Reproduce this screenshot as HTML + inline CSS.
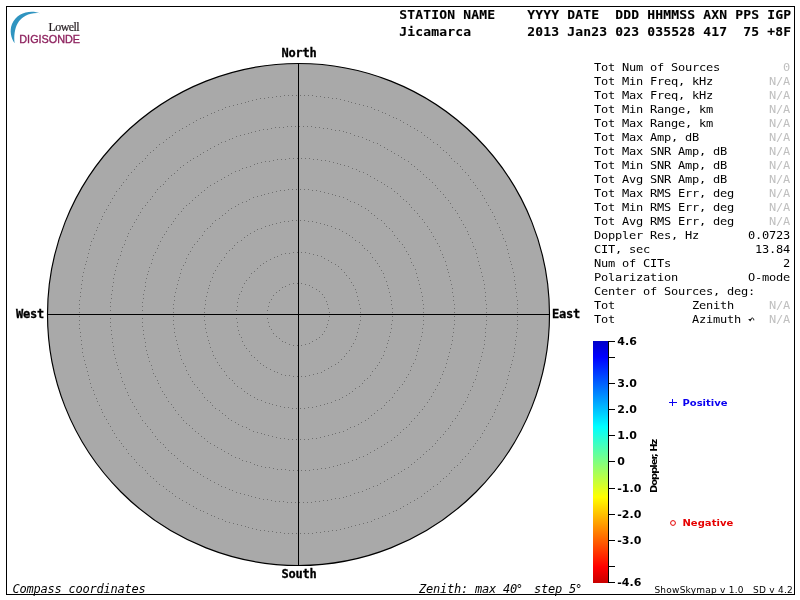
<!DOCTYPE html>
<html lang="en"><head><meta charset="utf-8"><title>Skymap - Jicamarca</title>
<style>
html,body{margin:0;padding:0;background:#fff;}
body{width:800px;height:600px;overflow:hidden;}
svg{display:block;}
.m{font-family:"DejaVu Sans Mono","Liberation Mono",monospace;font-size:12px;letter-spacing:-0.224px;fill:#000;}
.mb{font-family:"DejaVu Sans Mono","Liberation Mono",monospace;font-size:12px;font-weight:bold;letter-spacing:-0.224px;fill:#000;stroke:#000;stroke-width:0.3px;}
.mi{font-family:"DejaVu Sans Mono","Liberation Mono",monospace;font-size:12px;font-style:italic;letter-spacing:-0.224px;fill:#000;}
.h{font-family:"DejaVu Sans Mono","Liberation Mono",monospace;font-size:13px;font-weight:bold;letter-spacing:0.174px;fill:#000;stroke:#000;stroke-width:0.12px;}
.g{fill:#c0c0c0;}
.t{font-family:"DejaVu Sans","Liberation Sans",sans-serif;font-size:11px;font-weight:bold;fill:#000;}
.l{font-family:"DejaVu Sans","Liberation Sans",sans-serif;font-size:10px;font-weight:bold;}
.f{font-family:"DejaVu Sans","Liberation Sans",sans-serif;font-size:10px;fill:#000;}
</style></head><body>
<svg width="800" height="600" viewBox="0 0 800 600">
<defs>
<linearGradient id="jet" x1="0" y1="0" x2="0" y2="1">
<stop offset="0" stop-color="#0000c8"/>
<stop offset="0.066" stop-color="#0000ff"/>
<stop offset="0.355" stop-color="#00ffff"/>
<stop offset="0.5" stop-color="#80ff80"/>
<stop offset="0.645" stop-color="#ffff00"/>
<stop offset="0.934" stop-color="#ff0000"/>
<stop offset="1" stop-color="#c80000"/>
</linearGradient>
</defs>
<rect x="0" y="0" width="800" height="600" fill="#fff"/>
<rect x="6.5" y="6.5" width="788" height="588" fill="none" stroke="#000" stroke-width="1" shape-rendering="crispEdges"/>
<g id="logo">
<path d="M40.3 13.3 C30 9.2 16.5 13 12 24 C9.3 31 11 38 14.6 43.2 C13.8 36 14.6 29 17.6 23.6 C22 16 30.5 12.2 40.3 13.3 Z" fill="#2f94c0"/>
<text x="48.6" y="30.7" style="font-family:'Liberation Serif',serif;font-size:12px;letter-spacing:-0.62px;fill:#241c20;stroke:#241c20;stroke-width:0.2px">Lowell</text>
<text x="19.3" y="42.6" style="font-family:'Liberation Sans',sans-serif;font-size:10.83px;fill:#8f2460;stroke:#8f2460;stroke-width:0.35px">DIGISONDE</text>
</g>
<text class="h" x="399.3" y="19" xml:space="preserve">STATION NAME    YYYY DATE  DDD HHMMSS AXN PPS IGP</text>
<text class="h" x="399.3" y="36" xml:space="preserve">Jicamarca       2013 Jan23 023 035528 417  75 +8F</text>
<circle cx="298.5" cy="314.5" r="251" fill="#a9a9a9" stroke="#000" stroke-width="1.15"/>
<path d="M329 316.5h1M328 320.5h1M327 324.5h1M326 327.5h1M324 331.5h1M322 334.5h1M319 337.5h1M316 339.5h1M312 341.5h1M309 343.5h1M305 344.5h1M301 345.5h1M297 345.5h1M293 345.5h1M289 344.5h1M285 342.5h1M282 341.5h1M279 338.5h1M276 336.5h1M273 333.5h1M271 329.5h1M269 326.5h1M268 322.5h1M267 318.5h1M267 314.5h1M267 310.5h1M268 306.5h1M269 302.5h1M271 299.5h1M273 295.5h1M276 292.5h1M279 290.5h1M282 287.5h1M285 286.5h1M289 284.5h1M293 283.5h1M297 283.5h1M301 283.5h1M305 284.5h1M309 285.5h1M312 287.5h1M316 289.5h1M319 291.5h1M322 294.5h1M324 297.5h1M326 301.5h1M327 304.5h1M328 308.5h1M329 312.5h1" fill="none" stroke="#707070" stroke-width="1" shape-rendering="crispEdges"/>
<path d="M360 316.5h1M360 320.5h1M359 324.5h1M358 328.5h1M357 332.5h1M356 336.5h1M355 339.5h1M353 343.5h1M351 346.5h1M349 350.5h1M346 353.5h1M344 356.5h1M341 359.5h1M338 362.5h1M335 364.5h1M331 366.5h1M328 368.5h1M324 370.5h1M321 372.5h1M317 373.5h1M313 374.5h1M309 375.5h1M305 376.5h1M301 376.5h1M297 376.5h1M293 376.5h1M289 375.5h1M285 375.5h1M281 374.5h1M277 372.5h1M274 371.5h1M270 369.5h1M266 367.5h1M263 365.5h1M260 363.5h1M257 360.5h1M254 357.5h1M251 355.5h1M249 351.5h1M246 348.5h1M244 345.5h1M242 341.5h1M241 337.5h1M239 334.5h1M238 330.5h1M237 326.5h1M237 322.5h1M236 318.5h1M236 314.5h1M236 310.5h1M237 306.5h1M237 302.5h1M238 298.5h1M239 294.5h1M241 291.5h1M242 287.5h1M244 283.5h1M246 280.5h1M249 277.5h1M251 273.5h1M254 271.5h1M257 268.5h1M260 265.5h1M263 263.5h1M266 261.5h1M270 259.5h1M274 257.5h1M277 256.5h1M281 254.5h1M285 253.5h1M289 253.5h1M293 252.5h1M297 252.5h1M301 252.5h1M305 252.5h1M309 253.5h1M313 254.5h1M317 255.5h1M321 256.5h1M324 258.5h1M328 260.5h1M331 262.5h1M335 264.5h1M338 266.5h1M341 269.5h1M344 272.5h1M346 275.5h1M349 278.5h1M351 282.5h1M353 285.5h1M355 289.5h1M356 292.5h1M357 296.5h1M358 300.5h1M359 304.5h1M360 308.5h1M360 312.5h1" fill="none" stroke="#707070" stroke-width="1" shape-rendering="crispEdges"/>
<path d="M392 316.5h1M392 320.5h1M391 324.5h1M391 328.5h1M390 332.5h1M389 336.5h1M388 340.5h1M387 343.5h1M386 347.5h1M384 351.5h1M383 355.5h1M381 358.5h1M379 362.5h1M377 365.5h1M375 368.5h1M372 371.5h1M370 375.5h1M367 378.5h1M364 380.5h1M362 383.5h1M359 386.5h1M355 388.5h1M352 391.5h1M349 393.5h1M346 395.5h1M342 397.5h1M339 399.5h1M335 400.5h1M331 402.5h1M327 403.5h1M324 404.5h1M320 405.5h1M316 406.5h1M312 407.5h1M308 407.5h1M304 408.5h1M300 408.5h1M296 408.5h1M292 408.5h1M288 407.5h1M284 407.5h1M280 406.5h1M276 405.5h1M272 404.5h1M269 403.5h1M265 402.5h1M261 400.5h1M257 399.5h1M254 397.5h1M250 395.5h1M247 393.5h1M244 391.5h1M241 388.5h1M237 386.5h1M234 383.5h1M232 380.5h1M229 378.5h1M226 375.5h1M224 371.5h1M221 368.5h1M219 365.5h1M217 362.5h1M215 358.5h1M213 355.5h1M212 351.5h1M210 347.5h1M209 343.5h1M208 340.5h1M207 336.5h1M206 332.5h1M205 328.5h1M205 324.5h1M204 320.5h1M204 316.5h1M204 312.5h1M204 308.5h1M205 304.5h1M205 300.5h1M206 296.5h1M207 292.5h1M208 288.5h1M209 285.5h1M210 281.5h1M212 277.5h1M213 273.5h1M215 270.5h1M217 266.5h1M219 263.5h1M221 260.5h1M224 257.5h1M226 253.5h1M229 250.5h1M232 248.5h1M234 245.5h1M237 242.5h1M241 240.5h1M244 237.5h1M247 235.5h1M250 233.5h1M254 231.5h1M257 229.5h1M261 228.5h1M265 226.5h1M269 225.5h1M272 224.5h1M276 223.5h1M280 222.5h1M284 221.5h1M288 221.5h1M292 220.5h1M296 220.5h1M300 220.5h1M304 220.5h1M308 221.5h1M312 221.5h1M316 222.5h1M320 223.5h1M324 224.5h1M327 225.5h1M331 226.5h1M335 228.5h1M339 229.5h1M342 231.5h1M346 233.5h1M349 235.5h1M352 237.5h1M355 240.5h1M359 242.5h1M362 245.5h1M364 248.5h1M367 250.5h1M370 253.5h1M372 257.5h1M375 260.5h1M377 263.5h1M379 266.5h1M381 270.5h1M383 273.5h1M384 277.5h1M386 281.5h1M387 285.5h1M388 288.5h1M389 292.5h1M390 296.5h1M391 300.5h1M391 304.5h1M392 308.5h1M392 312.5h1" fill="none" stroke="#707070" stroke-width="1" shape-rendering="crispEdges"/>
<path d="M423 316.5h1M423 320.5h1M423 324.5h1M422 328.5h1M422 332.5h1M421 336.5h1M420 340.5h1M419 344.5h1M418 348.5h1M417 351.5h1M416 355.5h1M415 359.5h1M413 363.5h1M411 366.5h1M410 370.5h1M408 374.5h1M406 377.5h1M404 381.5h1M402 384.5h1M399 387.5h1M397 390.5h1M394 393.5h1M392 397.5h1M389 400.5h1M386 402.5h1M384 405.5h1M381 408.5h1M377 410.5h1M374 413.5h1M371 415.5h1M368 418.5h1M365 420.5h1M361 422.5h1M358 424.5h1M354 426.5h1M350 427.5h1M347 429.5h1M343 431.5h1M339 432.5h1M335 433.5h1M332 434.5h1M328 435.5h1M324 436.5h1M320 437.5h1M316 438.5h1M312 438.5h1M308 439.5h1M304 439.5h1M300 439.5h1M296 439.5h1M292 439.5h1M288 439.5h1M284 438.5h1M280 438.5h1M276 437.5h1M272 436.5h1M268 435.5h1M264 434.5h1M261 433.5h1M257 432.5h1M253 431.5h1M249 429.5h1M246 427.5h1M242 426.5h1M238 424.5h1M235 422.5h1M231 420.5h1M228 418.5h1M225 415.5h1M222 413.5h1M219 410.5h1M215 408.5h1M212 405.5h1M210 402.5h1M207 400.5h1M204 397.5h1M202 393.5h1M199 390.5h1M197 387.5h1M194 384.5h1M192 381.5h1M190 377.5h1M188 374.5h1M186 370.5h1M185 366.5h1M183 363.5h1M181 359.5h1M180 355.5h1M179 351.5h1M178 348.5h1M177 344.5h1M176 340.5h1M175 336.5h1M174 332.5h1M174 328.5h1M173 324.5h1M173 320.5h1M173 316.5h1M173 312.5h1M173 308.5h1M173 304.5h1M174 300.5h1M174 296.5h1M175 292.5h1M176 288.5h1M177 284.5h1M178 280.5h1M179 277.5h1M180 273.5h1M181 269.5h1M183 265.5h1M185 262.5h1M186 258.5h1M188 254.5h1M190 251.5h1M192 247.5h1M194 244.5h1M197 241.5h1M199 238.5h1M202 235.5h1M204 231.5h1M207 228.5h1M210 226.5h1M212 223.5h1M215 220.5h1M219 218.5h1M222 215.5h1M225 213.5h1M228 210.5h1M231 208.5h1M235 206.5h1M238 204.5h1M242 202.5h1M246 201.5h1M249 199.5h1M253 197.5h1M257 196.5h1M261 195.5h1M264 194.5h1M268 193.5h1M272 192.5h1M276 191.5h1M280 190.5h1M284 190.5h1M288 189.5h1M292 189.5h1M296 189.5h1M300 189.5h1M304 189.5h1M308 189.5h1M312 190.5h1M316 190.5h1M320 191.5h1M324 192.5h1M328 193.5h1M332 194.5h1M335 195.5h1M339 196.5h1M343 197.5h1M347 199.5h1M350 201.5h1M354 202.5h1M358 204.5h1M361 206.5h1M365 208.5h1M368 210.5h1M371 213.5h1M374 215.5h1M377 218.5h1M381 220.5h1M384 223.5h1M386 226.5h1M389 228.5h1M392 231.5h1M394 235.5h1M397 238.5h1M399 241.5h1M402 244.5h1M404 247.5h1M406 251.5h1M408 254.5h1M410 258.5h1M411 262.5h1M413 265.5h1M415 269.5h1M416 273.5h1M417 277.5h1M418 280.5h1M419 284.5h1M420 288.5h1M421 292.5h1M422 296.5h1M422 300.5h1M423 304.5h1M423 308.5h1M423 312.5h1" fill="none" stroke="#707070" stroke-width="1" shape-rendering="crispEdges"/>
<path d="M454 316.5h1M454 320.5h1M454 324.5h1M453 328.5h1M453 332.5h1M452 336.5h1M452 340.5h1M451 344.5h1M450 348.5h1M449 352.5h1M448 356.5h1M447 359.5h1M446 363.5h1M445 367.5h1M443 371.5h1M442 374.5h1M440 378.5h1M439 382.5h1M437 385.5h1M435 389.5h1M433 392.5h1M431 396.5h1M429 399.5h1M427 402.5h1M424 406.5h1M422 409.5h1M419 412.5h1M417 415.5h1M414 418.5h1M411 421.5h1M409 424.5h1M406 427.5h1M403 429.5h1M400 432.5h1M397 435.5h1M394 437.5h1M391 440.5h1M387 442.5h1M384 444.5h1M381 446.5h1M377 448.5h1M374 450.5h1M370 452.5h1M367 454.5h1M363 456.5h1M359 457.5h1M356 459.5h1M352 460.5h1M348 462.5h1M344 463.5h1M340 464.5h1M337 465.5h1M333 466.5h1M329 467.5h1M325 468.5h1M321 468.5h1M317 469.5h1M313 469.5h1M309 470.5h1M305 470.5h1M301 470.5h1M297 470.5h1M293 470.5h1M289 470.5h1M285 469.5h1M281 469.5h1M277 469.5h1M273 468.5h1M269 467.5h1M265 467.5h1M261 466.5h1M257 465.5h1M254 464.5h1M250 462.5h1M246 461.5h1M242 460.5h1M239 458.5h1M235 457.5h1M231 455.5h1M228 453.5h1M224 451.5h1M221 449.5h1M217 447.5h1M214 445.5h1M210 443.5h1M207 441.5h1M204 438.5h1M201 436.5h1M198 433.5h1M195 431.5h1M192 428.5h1M189 425.5h1M186 423.5h1M183 420.5h1M181 417.5h1M178 414.5h1M175 410.5h1M173 407.5h1M171 404.5h1M168 401.5h1M166 397.5h1M164 394.5h1M162 391.5h1M160 387.5h1M158 383.5h1M157 380.5h1M155 376.5h1M153 373.5h1M152 369.5h1M151 365.5h1M149 361.5h1M148 357.5h1M147 354.5h1M146 350.5h1M145 346.5h1M145 342.5h1M144 338.5h1M143 334.5h1M143 330.5h1M142 326.5h1M142 322.5h1M142 318.5h1M142 314.5h1M142 310.5h1M142 306.5h1M142 302.5h1M143 298.5h1M143 294.5h1M144 290.5h1M145 286.5h1M145 282.5h1M146 278.5h1M147 274.5h1M148 271.5h1M149 267.5h1M151 263.5h1M152 259.5h1M153 255.5h1M155 252.5h1M157 248.5h1M158 245.5h1M160 241.5h1M162 237.5h1M164 234.5h1M166 231.5h1M168 227.5h1M171 224.5h1M173 221.5h1M175 218.5h1M178 214.5h1M181 211.5h1M183 208.5h1M186 205.5h1M189 203.5h1M192 200.5h1M195 197.5h1M198 195.5h1M201 192.5h1M204 190.5h1M207 187.5h1M210 185.5h1M214 183.5h1M217 181.5h1M221 179.5h1M224 177.5h1M228 175.5h1M231 173.5h1M235 171.5h1M239 170.5h1M242 168.5h1M246 167.5h1M250 166.5h1M254 164.5h1M257 163.5h1M261 162.5h1M265 161.5h1M269 161.5h1M273 160.5h1M277 159.5h1M281 159.5h1M285 159.5h1M289 158.5h1M293 158.5h1M297 158.5h1M301 158.5h1M305 158.5h1M309 158.5h1M313 159.5h1M317 159.5h1M321 160.5h1M325 160.5h1M329 161.5h1M333 162.5h1M337 163.5h1M340 164.5h1M344 165.5h1M348 166.5h1M352 168.5h1M356 169.5h1M359 171.5h1M363 172.5h1M367 174.5h1M370 176.5h1M374 178.5h1M377 180.5h1M381 182.5h1M384 184.5h1M387 186.5h1M391 188.5h1M394 191.5h1M397 193.5h1M400 196.5h1M403 199.5h1M406 201.5h1M409 204.5h1M411 207.5h1M414 210.5h1M417 213.5h1M419 216.5h1M422 219.5h1M424 222.5h1M427 226.5h1M429 229.5h1M431 232.5h1M433 236.5h1M435 239.5h1M437 243.5h1M439 246.5h1M440 250.5h1M442 254.5h1M443 257.5h1M445 261.5h1M446 265.5h1M447 269.5h1M448 272.5h1M449 276.5h1M450 280.5h1M451 284.5h1M452 288.5h1M452 292.5h1M453 296.5h1M453 300.5h1M454 304.5h1M454 308.5h1M454 312.5h1" fill="none" stroke="#707070" stroke-width="1" shape-rendering="crispEdges"/>
<path d="M486 316.5h1M486 320.5h1M486 324.5h1M485 328.5h1M485 332.5h1M485 336.5h1M484 340.5h1M484 344.5h1M483 348.5h1M482 352.5h1M481 356.5h1M480 360.5h1M479 363.5h1M478 367.5h1M477 371.5h1M476 375.5h1M475 379.5h1M473 382.5h1M472 386.5h1M470 390.5h1M468 394.5h1M467 397.5h1M465 401.5h1M463 404.5h1M461 408.5h1M459 411.5h1M457 415.5h1M455 418.5h1M452 421.5h1M450 425.5h1M448 428.5h1M445 431.5h1M443 434.5h1M440 437.5h1M437 440.5h1M435 443.5h1M432 446.5h1M429 449.5h1M426 451.5h1M423 454.5h1M420 457.5h1M417 459.5h1M414 462.5h1M411 464.5h1M408 467.5h1M404 469.5h1M401 471.5h1M398 473.5h1M394 475.5h1M391 477.5h1M387 479.5h1M384 481.5h1M380 483.5h1M377 485.5h1M373 486.5h1M369 488.5h1M366 489.5h1M362 491.5h1M358 492.5h1M354 493.5h1M350 495.5h1M346 496.5h1M343 497.5h1M339 498.5h1M335 498.5h1M331 499.5h1M327 500.5h1M323 500.5h1M319 501.5h1M315 501.5h1M311 502.5h1M307 502.5h1M303 502.5h1M299 502.5h1M295 502.5h1M291 502.5h1M287 502.5h1M283 501.5h1M279 501.5h1M275 501.5h1M271 500.5h1M267 499.5h1M263 499.5h1M259 498.5h1M255 497.5h1M251 496.5h1M248 495.5h1M244 494.5h1M240 493.5h1M236 492.5h1M232 490.5h1M229 489.5h1M225 487.5h1M221 486.5h1M218 484.5h1M214 482.5h1M210 480.5h1M207 478.5h1M203 476.5h1M200 474.5h1M197 472.5h1M193 470.5h1M190 468.5h1M187 466.5h1M183 463.5h1M180 461.5h1M177 458.5h1M174 455.5h1M171 453.5h1M168 450.5h1M165 447.5h1M163 444.5h1M160 442.5h1M157 439.5h1M155 436.5h1M152 432.5h1M150 429.5h1M147 426.5h1M145 423.5h1M142 420.5h1M140 416.5h1M138 413.5h1M136 409.5h1M134 406.5h1M132 402.5h1M130 399.5h1M128 395.5h1M127 392.5h1M125 388.5h1M124 384.5h1M122 381.5h1M121 377.5h1M120 373.5h1M118 369.5h1M117 365.5h1M116 362.5h1M115 358.5h1M114 354.5h1M113 350.5h1M113 346.5h1M112 342.5h1M112 338.5h1M111 334.5h1M111 330.5h1M110 326.5h1M110 322.5h1M110 318.5h1M110 314.5h1M110 310.5h1M110 306.5h1M110 302.5h1M111 298.5h1M111 294.5h1M112 290.5h1M112 286.5h1M113 282.5h1M113 278.5h1M114 274.5h1M115 270.5h1M116 266.5h1M117 263.5h1M118 259.5h1M120 255.5h1M121 251.5h1M122 247.5h1M124 244.5h1M125 240.5h1M127 236.5h1M128 233.5h1M130 229.5h1M132 226.5h1M134 222.5h1M136 219.5h1M138 215.5h1M140 212.5h1M142 208.5h1M145 205.5h1M147 202.5h1M150 199.5h1M152 196.5h1M155 192.5h1M157 189.5h1M160 186.5h1M163 184.5h1M165 181.5h1M168 178.5h1M171 175.5h1M174 173.5h1M177 170.5h1M180 167.5h1M183 165.5h1M187 162.5h1M190 160.5h1M193 158.5h1M197 156.5h1M200 154.5h1M203 152.5h1M207 150.5h1M210 148.5h1M214 146.5h1M218 144.5h1M221 142.5h1M225 141.5h1M229 139.5h1M232 138.5h1M236 136.5h1M240 135.5h1M244 134.5h1M248 133.5h1M251 132.5h1M255 131.5h1M259 130.5h1M263 129.5h1M267 129.5h1M271 128.5h1M275 127.5h1M279 127.5h1M283 127.5h1M287 126.5h1M291 126.5h1M295 126.5h1M299 126.5h1M303 126.5h1M307 126.5h1M311 126.5h1M315 127.5h1M319 127.5h1M323 128.5h1M327 128.5h1M331 129.5h1M335 130.5h1M339 130.5h1M343 131.5h1M346 132.5h1M350 133.5h1M354 135.5h1M358 136.5h1M362 137.5h1M366 139.5h1M369 140.5h1M373 142.5h1M377 143.5h1M380 145.5h1M384 147.5h1M387 149.5h1M391 151.5h1M394 153.5h1M398 155.5h1M401 157.5h1M404 159.5h1M408 161.5h1M411 164.5h1M414 166.5h1M417 169.5h1M420 171.5h1M423 174.5h1M426 177.5h1M429 179.5h1M432 182.5h1M435 185.5h1M437 188.5h1M440 191.5h1M443 194.5h1M445 197.5h1M448 200.5h1M450 203.5h1M452 207.5h1M455 210.5h1M457 213.5h1M459 217.5h1M461 220.5h1M463 224.5h1M465 227.5h1M467 231.5h1M468 234.5h1M470 238.5h1M472 242.5h1M473 246.5h1M475 249.5h1M476 253.5h1M477 257.5h1M478 261.5h1M479 265.5h1M480 268.5h1M481 272.5h1M482 276.5h1M483 280.5h1M484 284.5h1M484 288.5h1M485 292.5h1M485 296.5h1M485 300.5h1M486 304.5h1M486 308.5h1M486 312.5h1" fill="none" stroke="#707070" stroke-width="1" shape-rendering="crispEdges"/>
<path d="M517 316.5h1M517 320.5h1M517 324.5h1M517 328.5h1M516 332.5h1M516 336.5h1M515 340.5h1M515 344.5h1M514 348.5h1M514 352.5h1M513 356.5h1M512 360.5h1M511 364.5h1M510 367.5h1M509 371.5h1M508 375.5h1M507 379.5h1M506 383.5h1M505 387.5h1M503 390.5h1M502 394.5h1M500 398.5h1M499 401.5h1M497 405.5h1M495 409.5h1M494 412.5h1M492 416.5h1M490 419.5h1M488 423.5h1M486 426.5h1M484 430.5h1M482 433.5h1M480 437.5h1M477 440.5h1M475 443.5h1M473 446.5h1M470 449.5h1M468 453.5h1M465 456.5h1M462 459.5h1M460 462.5h1M457 465.5h1M454 467.5h1M451 470.5h1M449 473.5h1M446 476.5h1M443 478.5h1M440 481.5h1M437 484.5h1M433 486.5h1M430 489.5h1M427 491.5h1M424 493.5h1M421 496.5h1M417 498.5h1M414 500.5h1M410 502.5h1M407 504.5h1M403 506.5h1M400 508.5h1M396 510.5h1M393 511.5h1M389 513.5h1M385 515.5h1M382 516.5h1M378 518.5h1M374 519.5h1M371 521.5h1M367 522.5h1M363 523.5h1M359 524.5h1M355 525.5h1M351 526.5h1M348 527.5h1M344 528.5h1M340 529.5h1M336 530.5h1M332 530.5h1M328 531.5h1M324 531.5h1M320 532.5h1M316 532.5h1M312 533.5h1M308 533.5h1M304 533.5h1M300 533.5h1M296 533.5h1M292 533.5h1M288 533.5h1M284 533.5h1M280 532.5h1M276 532.5h1M272 531.5h1M268 531.5h1M264 530.5h1M260 530.5h1M256 529.5h1M252 528.5h1M248 527.5h1M245 526.5h1M241 525.5h1M237 524.5h1M233 523.5h1M229 522.5h1M225 521.5h1M222 519.5h1M218 518.5h1M214 516.5h1M211 515.5h1M207 513.5h1M203 511.5h1M200 510.5h1M196 508.5h1M193 506.5h1M189 504.5h1M186 502.5h1M182 500.5h1M179 498.5h1M175 496.5h1M172 493.5h1M169 491.5h1M166 489.5h1M163 486.5h1M159 484.5h1M156 481.5h1M153 478.5h1M150 476.5h1M147 473.5h1M145 470.5h1M142 467.5h1M139 465.5h1M136 462.5h1M134 459.5h1M131 456.5h1M128 453.5h1M126 449.5h1M123 446.5h1M121 443.5h1M119 440.5h1M116 437.5h1M114 433.5h1M112 430.5h1M110 426.5h1M108 423.5h1M106 419.5h1M104 416.5h1M102 412.5h1M101 409.5h1M99 405.5h1M97 401.5h1M96 398.5h1M94 394.5h1M93 390.5h1M91 387.5h1M90 383.5h1M89 379.5h1M88 375.5h1M87 371.5h1M86 367.5h1M85 364.5h1M84 360.5h1M83 356.5h1M82 352.5h1M82 348.5h1M81 344.5h1M81 340.5h1M80 336.5h1M80 332.5h1M79 328.5h1M79 324.5h1M79 320.5h1M79 316.5h1M79 312.5h1M79 308.5h1M79 304.5h1M79 300.5h1M80 296.5h1M80 292.5h1M81 288.5h1M81 284.5h1M82 280.5h1M82 276.5h1M83 272.5h1M84 268.5h1M85 264.5h1M86 261.5h1M87 257.5h1M88 253.5h1M89 249.5h1M90 245.5h1M91 241.5h1M93 238.5h1M94 234.5h1M96 230.5h1M97 227.5h1M99 223.5h1M101 219.5h1M102 216.5h1M104 212.5h1M106 209.5h1M108 205.5h1M110 202.5h1M112 198.5h1M114 195.5h1M116 191.5h1M119 188.5h1M121 185.5h1M123 182.5h1M126 179.5h1M128 175.5h1M131 172.5h1M134 169.5h1M136 166.5h1M139 163.5h1M142 161.5h1M145 158.5h1M147 155.5h1M150 152.5h1M153 150.5h1M156 147.5h1M159 144.5h1M163 142.5h1M166 139.5h1M169 137.5h1M172 135.5h1M175 132.5h1M179 130.5h1M182 128.5h1M186 126.5h1M189 124.5h1M193 122.5h1M196 120.5h1M200 118.5h1M203 117.5h1M207 115.5h1M211 113.5h1M214 112.5h1M218 110.5h1M222 109.5h1M225 107.5h1M229 106.5h1M233 105.5h1M237 104.5h1M241 103.5h1M245 102.5h1M248 101.5h1M252 100.5h1M256 99.5h1M260 98.5h1M264 98.5h1M268 97.5h1M272 97.5h1M276 96.5h1M280 96.5h1M284 95.5h1M288 95.5h1M292 95.5h1M296 95.5h1M300 95.5h1M304 95.5h1M308 95.5h1M312 95.5h1M316 96.5h1M320 96.5h1M324 97.5h1M328 97.5h1M332 98.5h1M336 98.5h1M340 99.5h1M344 100.5h1M348 101.5h1M351 102.5h1M355 103.5h1M359 104.5h1M363 105.5h1M367 106.5h1M371 107.5h1M374 109.5h1M378 110.5h1M382 112.5h1M385 113.5h1M389 115.5h1M393 117.5h1M396 118.5h1M400 120.5h1M403 122.5h1M407 124.5h1M410 126.5h1M414 128.5h1M417 130.5h1M421 132.5h1M424 135.5h1M427 137.5h1M430 139.5h1M433 142.5h1M437 144.5h1M440 147.5h1M443 150.5h1M446 152.5h1M449 155.5h1M451 158.5h1M454 161.5h1M457 163.5h1M460 166.5h1M462 169.5h1M465 172.5h1M468 175.5h1M470 179.5h1M473 182.5h1M475 185.5h1M477 188.5h1M480 191.5h1M482 195.5h1M484 198.5h1M486 202.5h1M488 205.5h1M490 209.5h1M492 212.5h1M494 216.5h1M495 219.5h1M497 223.5h1M499 227.5h1M500 230.5h1M502 234.5h1M503 238.5h1M505 241.5h1M506 245.5h1M507 249.5h1M508 253.5h1M509 257.5h1M510 261.5h1M511 264.5h1M512 268.5h1M513 272.5h1M514 276.5h1M514 280.5h1M515 284.5h1M515 288.5h1M516 292.5h1M516 296.5h1M517 300.5h1M517 304.5h1M517 308.5h1M517 312.5h1" fill="none" stroke="#707070" stroke-width="1" shape-rendering="crispEdges"/>
<path d="M298.5 63.5V565.5M47.5 314.5H549.5" stroke="#000" stroke-width="1" fill="none" shape-rendering="crispEdges"/>
<text class="mb" x="281.5" y="57">North</text>
<text class="mb" x="281.5" y="578">South</text>
<text class="mb" x="16" y="318">West</text>
<text class="mb" x="552" y="318">East</text>
<g transform="scale(1,0.905)">
<text class="m" x="594" y="78.45">Tot Num of Sources</text><text class="m g" x="790" y="78.45" text-anchor="end">0</text>
<text class="m" x="594" y="93.92">Tot Min Freq, kHz</text><text class="m g" x="790" y="93.92" text-anchor="end">N/A</text>
<text class="m" x="594" y="109.39">Tot Max Freq, kHz</text><text class="m g" x="790" y="109.39" text-anchor="end">N/A</text>
<text class="m" x="594" y="124.86">Tot Min Range, km</text><text class="m g" x="790" y="124.86" text-anchor="end">N/A</text>
<text class="m" x="594" y="140.33">Tot Max Range, km</text><text class="m g" x="790" y="140.33" text-anchor="end">N/A</text>
<text class="m" x="594" y="155.80">Tot Max Amp, dB</text><text class="m g" x="790" y="155.80" text-anchor="end">N/A</text>
<text class="m" x="594" y="171.27">Tot Max SNR Amp, dB</text><text class="m g" x="790" y="171.27" text-anchor="end">N/A</text>
<text class="m" x="594" y="186.74">Tot Min SNR Amp, dB</text><text class="m g" x="790" y="186.74" text-anchor="end">N/A</text>
<text class="m" x="594" y="202.21">Tot Avg SNR Amp, dB</text><text class="m g" x="790" y="202.21" text-anchor="end">N/A</text>
<text class="m" x="594" y="217.68">Tot Max RMS Err, deg</text><text class="m g" x="790" y="217.68" text-anchor="end">N/A</text>
<text class="m" x="594" y="233.15">Tot Min RMS Err, deg</text><text class="m g" x="790" y="233.15" text-anchor="end">N/A</text>
<text class="m" x="594" y="248.62">Tot Avg RMS Err, deg</text><text class="m g" x="790" y="248.62" text-anchor="end">N/A</text>
<text class="m" x="594" y="264.09">Doppler Res, Hz</text><text class="m" x="790" y="264.09" text-anchor="end">0.0723</text>
<text class="m" x="594" y="279.56">CIT, sec</text><text class="m" x="790" y="279.56" text-anchor="end">13.84</text>
<text class="m" x="594" y="295.03">Num of CITs</text><text class="m" x="790" y="295.03" text-anchor="end">2</text>
<text class="m" x="594" y="310.50">Polarization</text><text class="m" x="790" y="310.50" text-anchor="end">O-mode</text>
<text class="m" x="594" y="325.97">Center of Sources, deg:</text>
<text class="m" x="594" y="341.44">Tot</text><text class="m g" x="790" y="341.44" text-anchor="end">N/A</text>
<text class="m" x="594" y="356.91">Tot</text><text class="m g" x="790" y="356.91" text-anchor="end">N/A</text>
<text class="m" x="692" y="341.44">Zenith</text>
<text class="m" x="692" y="356.91">Azimuth</text>
</g>
<path d="M750.8 319.8 C751 317.4 753.8 317.3 753.8 320.3" fill="none" stroke="#000" stroke-width="1"/><path d="M748.2 319.1 L751.6 319.3 L750.2 321.6 Z" fill="#000"/>
<rect x="593" y="341" width="15" height="242" fill="url(#jet)"/>
<path d="M608.5 341V583M609 341.5H615M609 357.5H615M609 383.5H615M609 409.5H615M609 435.5H615M609 461.5H615M609 488.5H615M609 514.5H615M609 540.5H615M609 566.5H615M609 582.5H615" stroke="#000" stroke-width="1" fill="none" shape-rendering="crispEdges"/>
<text class="t" x="617.3" y="345">4.6</text>
<text class="t" x="617.3" y="387">3.0</text>
<text class="t" x="617.3" y="413">2.0</text>
<text class="t" x="617.3" y="439">1.0</text>
<text class="t" x="617.3" y="465">0</text>
<text class="t" x="617.3" y="492">-1.0</text>
<text class="t" x="617.3" y="518">-2.0</text>
<text class="t" x="617.3" y="544">-3.0</text>
<text class="t" x="617.3" y="586">-4.6</text>
<text class="l" transform="translate(657.3 493) rotate(-90) scale(1,0.9)" style="letter-spacing:-1.02px;font-size:10px" fill="#000">Doppler, Hz</text>
<path d="M669 402.5H677M672.5 399V406" stroke="#0a00f0" stroke-width="1" fill="none" shape-rendering="crispEdges"/>
<text class="l" transform="translate(682.5 406) scale(1,0.93)" fill="#0a00f0">Positive</text>
<circle cx="673" cy="523" r="2.4" fill="none" stroke="#e60000" stroke-width="1"/>
<text class="l" transform="translate(682.4 526) scale(1,0.93)" style="letter-spacing:0.06px" fill="#e60000">Negative</text>
<text class="mi" x="12.5" y="593">Compass coordinates</text>
<text class="mi" x="419" y="593">Zenith: max 40<tspan dx="-1.3">°</tspan></text>
<text class="mi" x="534" y="593">step 5<tspan dx="-1">°</tspan></text>
<text class="f" x="654.4" y="593" style="font-size:9px;letter-spacing:0.24px" xml:space="preserve">ShowSkymap v 1.0   SD v 4.2</text>
</svg>
</body></html>
